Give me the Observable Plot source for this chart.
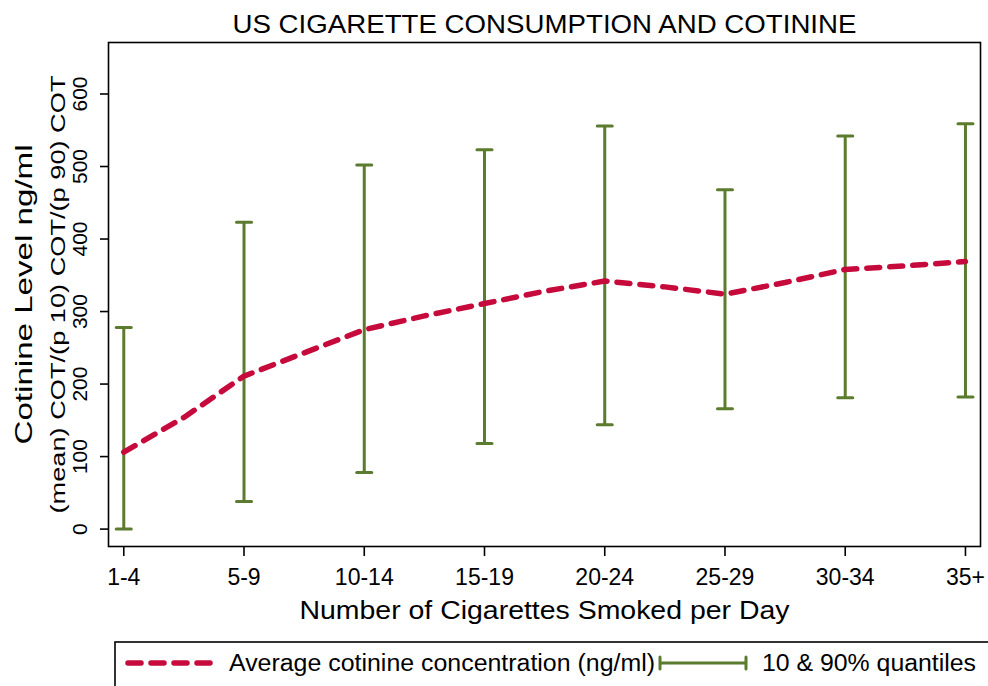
<!DOCTYPE html>
<html>
<head>
<meta charset="utf-8">
<script src="https://cdn.jsdelivr.net/npm/d3@7"></script>
<script src="https://cdn.jsdelivr.net/npm/@observablehq/plot@0.6"></script>
<style>
  html, body { margin: 0; padding: 0; background: #fff; }
  #chart { width: 988px; font-family: "Liberation Sans", Arial, sans-serif; }
  #chart svg { display: block; }
</style>
</head>
<body>
<div id="chart"></div>
<script>
// Cigarettes smoked per day (binned)
const categories = ["1-4", "5-9", "10-14", "15-19", "20-24", "25-29", "30-34", "35+"];
const catPos = [1, 2, 3, 4, 5, 6, 7, 8];

// 10th and 90th percentile of cotinine (ng/ml) per bin
const p10 = [0, 38, 78, 118, 144, 166, 181, 182];
const p90 = [278, 423, 502, 523, 556, 468, 542, 559];

// Mean cotinine (ng/ml), sampled at bins and half-bins
const meanPos = [1, 1.5, 2, 2.5, 3, 3.5, 4, 4.5, 5, 5.5, 6, 6.5, 7, 7.5, 8];
const meanCot = [106, 154, 211, 243, 275, 294, 311, 328, 342, 334, 324, 340, 358, 363, 369];

const yTicks = [0, 100, 200, 300, 400, 500, 600];

const titleText = "US CIGARETTE CONSUMPTION AND COTININE";
const xTitle = "Number of Cigarettes Smoked per Day";
const yTitle1 = "Cotinine Level ng/ml";
const yTitle2 = "(mean) COT/(p 10) COT/(p 90) COT";
const legendLabels = ["Average cotinine concentration (ng/ml)", "10 & 90% quantiles"];

const RED = "#c60a3c";
const GREEN = "#5b7b2e";
const FONT = "Liberation Sans, Arial, sans-serif";

const bars = catPos.map((x, i) => ({x, lo: p10[i], hi: p90[i], cat: categories[i]}));
const means = meanPos.map((x, i) => ({x, y: meanCot[i]}));

// horizontal cap drawn as a dot symbol
const capSymbol = {
  draw(ctx) { ctx.moveTo(-7.5, 0); ctx.lineTo(7.5, 0); }
};

const plot = Plot.plot({
  width: 988,
  height: 630,
  marginTop: 42,
  marginLeft: 108,
  marginRight: 8,
  marginBottom: 84,
  style: {fontFamily: FONT, color: "#000", background: "#fff"},
  x: {type: "linear", domain: [0.873, 8.125]},
  y: {type: "linear", domain: [-24, 671]},
  marks: [
    Plot.frame({stroke: "#000", strokeWidth: 1.6}),
    Plot.axisX(catPos, {
      tickSize: 10, tickPadding: 12, fontSize: 23, strokeWidth: 1.6,
      tickFormat: (d) => categories[d - 1], label: null
    }),
    Plot.axisY(yTicks, {tickSize: 8, strokeWidth: 1.6, tickFormat: () => "", label: null}),
    Plot.text(yTicks, {
      y: (d) => d, text: (d) => String(d), frameAnchor: "left", dx: -28,
      rotate: -90, textAnchor: "middle", lineAnchor: "middle", fontSize: 21, fill: "#000"
    }),
    Plot.ruleX(bars, {x: "x", y1: "lo", y2: "hi", stroke: GREEN, strokeWidth: 3}),
    Plot.dot(bars, {x: "x", y: "lo", symbol: capSymbol, stroke: GREEN, strokeWidth: 3, strokeLinecap: "round", fill: "none", r: 7.5}),
    Plot.dot(bars, {x: "x", y: "hi", symbol: capSymbol, stroke: GREEN, strokeWidth: 3, strokeLinecap: "round", fill: "none", r: 7.5}),
    Plot.line(means, {
      x: "x", y: "y", stroke: RED, strokeWidth: 5.5,
      strokeDasharray: "13 10", strokeLinecap: "round", strokeLinejoin: "round"
    }),
    Plot.text([titleText], {
      frameAnchor: "top", dy: -10, lineAnchor: "bottom", fontSize: 26, fill: "#000"
    }),
    Plot.text([xTitle], {
      frameAnchor: "bottom", dy: 72, lineAnchor: "bottom", fontSize: 25, fill: "#000"
    }),
    Plot.text([yTitle1], {
      frameAnchor: "left", dx: -84, rotate: -90, lineAnchor: "middle", fontSize: 24, fill: "#000"
    }),
    Plot.text([yTitle2], {
      frameAnchor: "left", dx: -50, rotate: -90, lineAnchor: "middle", fontSize: 21, fill: "#000"
    })
  ]
});

// stretch the titles to their drawn widths, centred on their anchor
const fit = new Map([[titleText, 624], [xTitle, 490], [yTitle1, 300], [yTitle2, 438]]);
d3.select(plot).selectAll("text")
  .filter(function () { return fit.has(this.textContent); })
  .each(function () {
    const len = fit.get(this.textContent);
    d3.select(this)
      .attr("text-anchor", "start")
      .attr("x", -len / 2)
      .attr("textLength", len)
      .attr("lengthAdjust", "spacingAndGlyphs");
  });
document.getElementById("chart").appendChild(plot);

// legend strip below the plot
const leg = d3.create("svg").attr("width", 988).attr("height", 56)
  .style("font-family", FONT);
leg.append("rect").attr("x", 115).attr("y", 12).attr("width", 1000).attr("height", 100)
  .attr("fill", "none").attr("stroke", "#000").attr("stroke-width", 1.6);
leg.append("line").attr("x1", 128).attr("x2", 210).attr("y1", 33).attr("y2", 33)
  .attr("stroke", RED).attr("stroke-width", 5.5).attr("stroke-dasharray", "13 10")
  .attr("stroke-linecap", "round");
leg.append("text").attr("x", 229).attr("y", 41).attr("font-size", 23)
  .attr("textLength", 426).attr("lengthAdjust", "spacingAndGlyphs")
  .text(legendLabels[0]);
leg.append("line").attr("x1", 660).attr("x2", 746).attr("y1", 33).attr("y2", 33)
  .attr("stroke", GREEN).attr("stroke-width", 3);
for (const cx of [660, 746]) {
  leg.append("line").attr("x1", cx).attr("x2", cx).attr("y1", 27).attr("y2", 39)
    .attr("stroke", GREEN).attr("stroke-width", 3).attr("stroke-linecap", "round");
}
leg.append("text").attr("x", 762).attr("y", 41).attr("font-size", 23)
  .attr("textLength", 214).attr("lengthAdjust", "spacingAndGlyphs")
  .text(legendLabels[1]);
document.getElementById("chart").appendChild(leg.node());
</script>
</body>
</html>
